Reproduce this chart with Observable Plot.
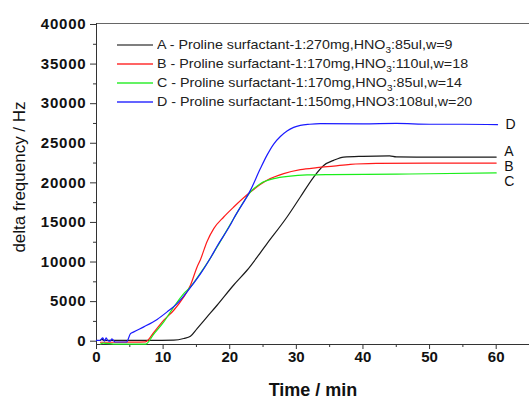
<!DOCTYPE html>
<html>
<head>
<meta charset="utf-8">
<script src="https://cdn.jsdelivr.net/npm/d3@7"></script>
<script src="https://cdn.jsdelivr.net/npm/@observablehq/plot@0.6"></script>
<style>
  html, body { margin: 0; padding: 0; background: #fff; }
  #wrap { position: relative; width: 529px; height: 401px; font-family: "Liberation Sans", Arial, sans-serif; }
  #legend { position: absolute; left: 117px; top: 35px; font-size: 12.8px; color: #222; }
  .row { display: flex; align-items: center; height: 19px; white-space: nowrap; }
  .row svg { margin-right: 4px; flex: none; }
  .lbl { display: inline-block; transform: scaleX(1.115); transform-origin: 0 50%; }
  sub { font-size: 9px; vertical-align: -4px; line-height: 0; }
</style>
</head>
<body>
<div id="wrap"></div>
<script>
// Series A (black)
const tA = [0.6, 0.9, 1.0, 2, 5, 8, 11.6, 13.1, 14.1, 15.1, 16.6, 18.1, 20.6, 22.6, 25.6, 28.6, 30.6, 32.6, 34.1, 35.6, 37.1, 40, 44, 45, 50, 55, 60];
const vA = [100, 250, 100, 100, 100, 100, 130, 340, 630, 1600, 3070, 4540, 7100, 8960, 12330, 15690, 18210, 20730, 22200, 22840, 23250, 23350, 23400, 23270, 23250, 23250, 23250];
// Series B (red)
const tB = [0.6, 3, 5, 7.35, 8.6, 10.1, 11.6, 13.1, 14.1, 15.1, 15.6, 16.6, 17.6, 19.1, 20.6, 23.1, 25.6, 28.1, 30.6, 33.1, 35.6, 38.1, 42, 50, 60];
const vB = [-130, -130, -120, -80, 1100, 2650, 3910, 5590, 7070, 9380, 10300, 12600, 14220, 15690, 16950, 18840, 20320, 21160, 21660, 21920, 22120, 22330, 22450, 22500, 22500];
// Series C (green)
const tC = [0.6, 1, 3, 5, 7.35, 8.6, 10.1, 11.6, 13.1, 14.1, 15.6, 17.1, 18.1, 20.6, 23.1, 24.6, 26.6, 29.1, 31.6, 35, 45, 50, 60];
const vC = [-350, -250, -380, -380, -380, 900, 2440, 4330, 6020, 6850, 8600, 10500, 11900, 15500, 18840, 19900, 20530, 20860, 21000, 21050, 21100, 21150, 21250];
// Series D (blue)
const tD = [0, 0.5, 0.95, 1.2, 1.45, 1.7, 2.05, 2.3, 2.8, 3.5, 4.5, 5.1, 5.6, 7.1, 9.1, 10.6, 12.1, 13.6, 14.35, 15.6, 17.1, 18.1, 20.1, 20.6, 23.1, 24.6, 25.6, 26.6, 27.6, 28.6, 29.6, 30.6, 32, 33.6, 40, 45, 50, 55, 60.2];
const vD = [100, 100, 420, 0, 420, 100, 0, 300, -100, -100, -100, 950, 1180, 1810, 2750, 3700, 4750, 6230, 7070, 8500, 10500, 12000, 14700, 15500, 19050, 21800, 23500, 24900, 25850, 26550, 27000, 27260, 27400, 27470, 27450, 27500, 27400, 27400, 27350];

const seriesNames = ["A", "B", "C", "D"];
const seriesColors = ["#1a1a1a", "#ff1a1a", "#1aee1a", "#1a1aff"];
const swatchColors = ["#555555", "#ff3030", "#30ee30", "#3030ff"];
const legendLabels = [
  "A - Proline surfactant-1:270mg,HNO<sub>3</sub>:85ul,w=9",
  "B - Proline surfactant-1:170mg,HNO<sub>3</sub>:110ul,w=18",
  "C - Proline surfactant-1:170mg,HNO<sub>3</sub>:85ul,w=14",
  "D - Proline surfactant-1:150mg,HNO3:108ul,w=20"
];
const xTicks = [0, 10, 20, 30, 40, 50, 60];
const xMinor = [5, 15, 25, 35, 45, 55, 65];
const yTicks = [0, 5000, 10000, 15000, 20000, 25000, 30000, 35000, 40000];
const yMinor = [2500, 7500, 12500, 17500, 22500, 27500, 32500, 37500];
const xDomain = [0, 65];
const yDomain = [-417, 40126];

const times = [tA, tB, tC, tD];
const vals = [vA, vB, vC, vD];
const data = seriesNames.flatMap((s, i) => times[i].map((t, j) => ({s, t, v: vals[i][j]})));
const last = seriesNames.map((s, i) => ({s, t: times[i][times[i].length - 1], v: vals[i][vals[i].length - 1]}));
const labelDy = {A: -6, B: 3, C: 9, D: 0};

const font = '"Liberation Sans", Arial, sans-serif';
const plain = d => String(d);
const plot = Plot.plot({
  width: 529,
  height: 401,
  marginLeft: 96,
  marginRight: 0,
  marginTop: 23,
  marginBottom: 57,
  style: {fontFamily: font, background: "#fff", overflow: "visible"},
  x: {domain: xDomain},
  y: {domain: yDomain},
  color: {domain: seriesNames, range: seriesColors},
  marks: [
    Plot.axisX({ticks: xTicks, tickSize: 5, tickPadding: 2, tickFormat: plain, stroke: "#333", fill: "#111", label: null}),
    Plot.axisX({ticks: xMinor, tickSize: 3, tickFormat: () => "", stroke: "#333", label: null}),
    Plot.axisY({ticks: yTicks, tickSize: 6, tickPadding: 4, tickFormat: plain, stroke: "#333", fill: "#111", label: null}),
    Plot.axisY({ticks: yMinor, tickSize: 3, tickFormat: () => "", stroke: "#333", label: null}),
    Plot.ruleY([yDomain[1]], {stroke: "#666", strokeWidth: 1}),
    Plot.ruleY([yDomain[0]], {stroke: "#333", strokeWidth: 1}),
    Plot.ruleX([xDomain[0]], {stroke: "#333", strokeWidth: 1}),
    Plot.line(data, {x: "t", y: "v", z: "s", stroke: "s", strokeWidth: 1.2, curve: "monotone-x"}),
    ...seriesNames.map(s => Plot.text(last.filter(d => d.s === s), {x: "t", y: "v", text: "s", dx: 8, dy: labelDy[s], textAnchor: "start", fontSize: 14, fill: "#111"})),
    Plot.text(["Time / min"], {frameAnchor: "bottom", dy: 51, fontSize: 18, fontWeight: "bold", fill: "#111"}),
    Plot.text(["delta frequency / Hz"], {frameAnchor: "left", dx: -77, dy: -7, rotate: -90, textAnchor: "middle", fontSize: 17, fill: "#111"})
  ]
});
plot.querySelectorAll('[aria-label="x-axis tick label"], [aria-label="y-axis tick label"]').forEach(g => {
  g.setAttribute("font-size", "15");
  g.setAttribute("font-weight", "bold");
});
plot.querySelectorAll('[aria-label="y-axis tick label"] text').forEach(t => t.style.letterSpacing = "0.8px");
const wrap = document.getElementById("wrap");
wrap.appendChild(plot);
const legend = document.createElement("div");
legend.id = "legend";
legend.innerHTML = seriesNames.map((s, i) =>
  `<div class="row"><svg width="36" height="4"><line x1="0" x2="36" y1="2" y2="2" stroke="${swatchColors[i]}" stroke-width="1.3"/></svg><span class="lbl">${legendLabels[i]}</span></div>`).join("");
wrap.appendChild(legend);
</script>
</body>
</html>
